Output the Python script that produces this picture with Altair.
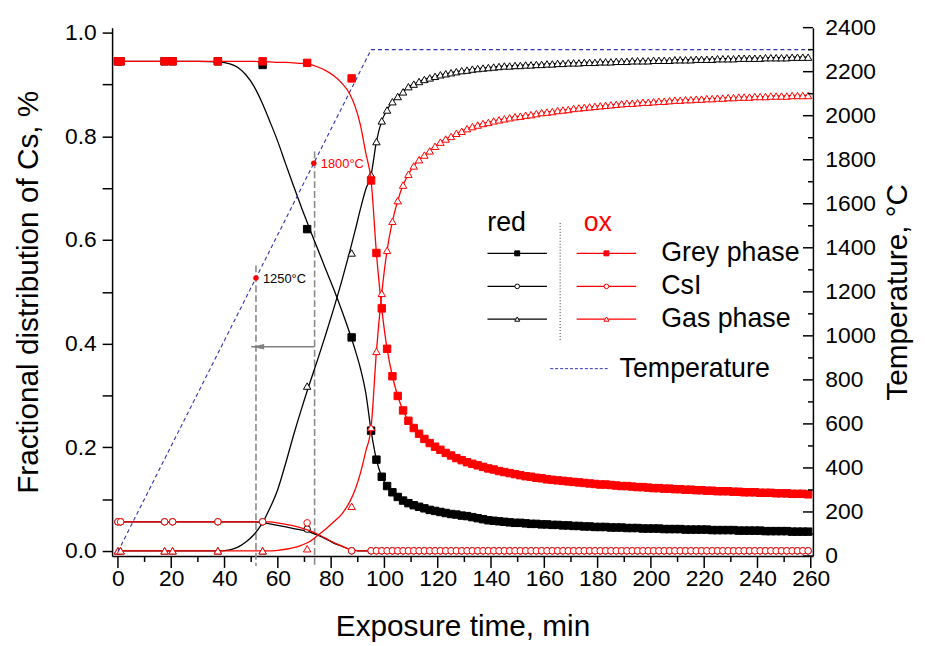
import altair as alt
import pandas as pd

FONT = "Liberation Sans"

# ---------------- data ----------------
# sparse measurement times (min)
t_sparse = [0, 1, 17.5, 20.5, 37.5, 54.3, 71, 87.7]
red_grey_sparse = [0.945, 0.945, 0.945, 0.945, 0.945, 0.938, 0.621, 0.412]
red_csi_sparse = [0.056, 0.056, 0.056, 0.056, 0.056, 0.056, 0.042, 0.0]
red_gas_sparse = [0.0, 0.0, 0.0, 0.0, 0.0, 0.0, 0.318, 0.575]
ox_grey_sparse = [0.945, 0.945, 0.945, 0.945, 0.945, 0.945, 0.942, 0.912]
ox_csi_sparse = [0.056, 0.056, 0.056, 0.056, 0.056, 0.056, 0.054, 0.0]
ox_gas_sparse = [0.0, 0.0, 0.0, 0.0, 0.0, 0.0, 0.004, 0.086]

# dense measurement times (min), every 2 min from 95 to 259
t_dense = list(range(95, 260, 2))

red_grey_dense = [
    0.232, 0.176, 0.143, 0.125, 0.113, 0.104, 0.097, 0.092, 0.088, 0.085,
    0.082, 0.079, 0.077, 0.075, 0.073, 0.071, 0.070, 0.068, 0.067, 0.065,
    0.063, 0.061, 0.059, 0.058, 0.057, 0.056, 0.055, 0.054, 0.054, 0.053,
    0.052, 0.052, 0.051, 0.051, 0.050, 0.050, 0.049, 0.049, 0.048, 0.048,
    0.047, 0.047, 0.046, 0.046, 0.046, 0.045, 0.045, 0.045, 0.044, 0.044,
    0.044, 0.043, 0.043, 0.043, 0.043, 0.042, 0.042, 0.042, 0.042, 0.041,
    0.041, 0.041, 0.041, 0.041, 0.040, 0.040, 0.040, 0.040, 0.040, 0.039,
    0.039, 0.039, 0.039, 0.039, 0.038, 0.038, 0.038, 0.038, 0.038, 0.037,
    0.037, 0.037, 0.037]
red_gas_dense = [
    0.726, 0.790, 0.830, 0.851, 0.867, 0.877, 0.886, 0.896, 0.901, 0.906,
    0.910, 0.913, 0.916, 0.919, 0.921, 0.923, 0.925, 0.927, 0.928, 0.930,
    0.931, 0.932, 0.933, 0.934, 0.935, 0.936, 0.936, 0.937, 0.937, 0.938,
    0.938, 0.939, 0.939, 0.940, 0.940, 0.941, 0.941, 0.942, 0.942, 0.942,
    0.943, 0.943, 0.943, 0.944, 0.944, 0.944, 0.945, 0.945, 0.945, 0.946,
    0.946, 0.946, 0.946, 0.947, 0.947, 0.947, 0.947, 0.948, 0.948, 0.948,
    0.948, 0.949, 0.949, 0.949, 0.949, 0.950, 0.950, 0.950, 0.950, 0.951,
    0.951, 0.951, 0.951, 0.951, 0.952, 0.952, 0.952, 0.952, 0.952, 0.953,
    0.953, 0.953, 0.953]
ox_grey_dense = [
    0.715, 0.575, 0.468, 0.390, 0.337, 0.299, 0.271, 0.251, 0.237, 0.226,
    0.216, 0.208, 0.201, 0.195, 0.189, 0.184, 0.179, 0.175, 0.171, 0.168,
    0.165, 0.162, 0.159, 0.157, 0.154, 0.152, 0.150, 0.148, 0.146, 0.144,
    0.143, 0.141, 0.140, 0.138, 0.137, 0.136, 0.135, 0.134, 0.133, 0.132,
    0.131, 0.130, 0.129, 0.128, 0.128, 0.127, 0.126, 0.125, 0.125, 0.124,
    0.123, 0.123, 0.122, 0.121, 0.121, 0.120, 0.120, 0.119, 0.119, 0.118,
    0.118, 0.117, 0.117, 0.116, 0.116, 0.115, 0.115, 0.115, 0.114, 0.114,
    0.113, 0.113, 0.113, 0.112, 0.112, 0.112, 0.111, 0.111, 0.111, 0.110,
    0.110, 0.110, 0.109]
ox_gas_dense = [
    0.238, 0.385, 0.497, 0.580, 0.636, 0.676, 0.706, 0.727, 0.743, 0.755,
    0.764, 0.772, 0.781, 0.789, 0.795, 0.800, 0.806, 0.810, 0.815, 0.819,
    0.822, 0.825, 0.827, 0.830, 0.832, 0.834, 0.836, 0.838, 0.839, 0.841,
    0.842, 0.844, 0.846, 0.847, 0.848, 0.850, 0.851, 0.852, 0.854, 0.855,
    0.856, 0.857, 0.858, 0.859, 0.860, 0.861, 0.862, 0.863, 0.864, 0.864,
    0.865, 0.866, 0.866, 0.867, 0.868, 0.868, 0.869, 0.870, 0.870, 0.871,
    0.871, 0.872, 0.872, 0.873, 0.873, 0.874, 0.874, 0.875, 0.875, 0.876,
    0.876, 0.876, 0.877, 0.877, 0.877, 0.878, 0.878, 0.878, 0.878, 0.879,
    0.879, 0.879, 0.879]
csi_dense = [0.0] * len(t_dense)

# fitted (smooth) curves before the dense region
t_fit = [0, 30, 38, 42, 45, 48, 51, 54, 57, 60, 63, 66, 69, 72, 75, 78, 81, 84, 87, 89, 91, 93]
red_grey_fit = [0.945, 0.945, 0.944, 0.940, 0.933, 0.919, 0.897, 0.866, 0.829, 0.790, 0.746,
                0.703, 0.661, 0.621, 0.582, 0.543, 0.505, 0.464, 0.420, 0.388, 0.352, 0.305]
red_csi_fit = [0.056, 0.056, 0.056, 0.056, 0.056, 0.056, 0.056, 0.055, 0.052, 0.049, 0.046,
               0.043, 0.040, 0.036, 0.030, 0.023, 0.015, 0.009, 0.003, 0.001, 0.0, 0.0]
red_gas_fit = [0.0, 0.0, 0.0, 0.002, 0.007, 0.017, 0.031, 0.052, 0.082, 0.119, 0.170,
               0.225, 0.276, 0.324, 0.370, 0.418, 0.468, 0.521, 0.578, 0.618, 0.660, 0.698]
ox_grey_fit = [0.945, 0.945, 0.945, 0.945, 0.945, 0.945, 0.945, 0.944, 0.944, 0.943, 0.943,
               0.942, 0.941, 0.939, 0.934, 0.927, 0.917, 0.903, 0.882, 0.858, 0.822, 0.768]
ox_csi_fit = [0.056, 0.056, 0.056, 0.056, 0.056, 0.056, 0.056, 0.056, 0.056, 0.054, 0.051,
              0.048, 0.044, 0.039, 0.032, 0.024, 0.016, 0.009, 0.003, 0.001, 0.0, 0.0]
ox_gas_fit = [0.0, 0.0, 0.0, 0.0, 0.0, 0.0, 0.0, 0.0, 0.0, 0.001, 0.003,
              0.006, 0.011, 0.018, 0.030, 0.042, 0.056, 0.071, 0.095, 0.118, 0.150, 0.192]

# temperature programme
temp_t = [0, 95, 260]
temp_c = [20, 2300, 2300]

# marked temperatures
mark_t = [51.8, 73.5]
mark_c = [1263, 1784]
mark_label = ["1250°C", "1800°C"]

# guide lines and arrow
guide_t = [51.8, 73.8]
guide_top = [0.551, 0.771]
arrow_from = [73.8]
arrow_to = [50.0]
arrow_level = [0.394]

# axis tick values
x_major = list(range(0, 261, 20))
x_minor = list(range(10, 251, 20))
y_ticks = [round(i * 0.1, 1) for i in range(11)]
t_major = list(range(0, 2401, 200))
t_minor = list(range(100, 2301, 200))

# legend
legend_rows = ["Grey phase", "CsI", "Gas phase"]

# ---------------- scales & axes ----------------
W, H = 707, 533
LBL, TTL, LEG = 23, 30, 27
x_scale = alt.Scale(domain=[-2.2, 260.8], nice=False, zero=False)
y_scale = alt.Scale(domain=[-0.01, 1.01], nice=False, zero=False)
t_scale = alt.Scale(domain=[0, 2400], nice=False, zero=False)

x_axis = alt.Axis(values=x_major, ticks=False, grid=False, labelPadding=12, labelFontSize=LBL,
                  title="Exposure time, min", titleFontSize=TTL, titlePadding=21,
                  titleFontWeight="normal", labelFlush=False, labelOverlap=False,
                  domainWidth=1.5, domainColor="black")
y_axis = alt.Axis(orient="left", values=y_ticks,
                  labelExpr="round(datum.value*10) % 2 == 0 ? format(datum.value, '.1f') : ''",
                  tickSize=10, tickWidth=1.5, tickColor="black", labelPadding=6, labelFontSize=LBL,
                  title="Fractional distribution of Cs, %", titleFontSize=TTL, titlePadding=21,
                  titleFontWeight="normal", grid=False, labelFlush=False, labelOverlap=False,
                  domainWidth=1.5, domainColor="black")
t_axis = alt.Axis(orient="right", values=t_major, format="d", ticks=False, labelPadding=12,
                  labelFontSize=LBL, title="Temperature, °C", titleFontSize=TTL, titlePadding=7,
                  titleAngle=270, titleBaseline="top", titleFontWeight="normal", grid=False,
                  labelFlush=False, labelOverlap=False, domainWidth=1.5, domainColor="black")


def X(f="t"):
    return alt.X(f"{f}:Q", scale=x_scale, axis=x_axis)


def Y(f="v"):
    return alt.Y(f"{f}:Q", scale=y_scale, axis=y_axis)


def YT(f="T"):
    return alt.Y(f"{f}:Q", scale=t_scale, axis=t_axis)


BLACK, RED = "#000000", "#ff0000"
SIZES = {"square": 56, "circle": 44, "triangle-up": 56}


def series(t_pts, v_pts, v_fit, v_dense_line, color, shape, filled):
    pts = pd.DataFrame({"t": t_pts, "v": v_pts})
    ln = pd.DataFrame({"t": t_fit + t_dense, "v": v_fit + v_dense_line})
    line = alt.Chart(ln).mark_line(color=color, strokeWidth=1.3, interpolate="monotone").encode(
        x=X(), y=Y())
    pt = alt.Chart(pts).mark_point(shape=shape, filled=True, size=SIZES[shape],
                                   fill=color if filled else "white", stroke=color,
                                   strokeWidth=1, opacity=1).encode(x=X(), y=Y())
    return line, pt


rg_l, rg_p = series(t_sparse + t_dense, red_grey_sparse + red_grey_dense, red_grey_fit, red_grey_dense, BLACK, "square", True)
rc_l, rc_p = series(t_sparse + t_dense, red_csi_sparse + csi_dense, red_csi_fit, csi_dense, BLACK, "circle", False)
ra_l, ra_p = series(t_sparse + t_dense, red_gas_sparse + red_gas_dense, red_gas_fit, red_gas_dense, BLACK, "triangle-up", False)
og_l, og_p = series(t_sparse + t_dense, ox_grey_sparse + ox_grey_dense, ox_grey_fit, ox_grey_dense, RED, "square", True)
oc_l, oc_p = series(t_sparse + t_dense, ox_csi_sparse + csi_dense, ox_csi_fit, csi_dense, RED, "circle", False)
oa_l, oa_p = series(t_sparse + t_dense, ox_gas_sparse + ox_gas_dense, ox_gas_fit, ox_gas_dense, RED, "triangle-up", False)

# guides
guide_df = pd.DataFrame({"t": guide_t, "v": guide_top})
guides = alt.Chart(guide_df).mark_rule(color="#8a8a8a", strokeWidth=1.6, strokeDash=[7, 3]).encode(
    x=X(), y=Y(), y2=alt.value(H + 10))
arrow_df = pd.DataFrame({"t": arrow_from, "t2": arrow_to, "v": arrow_level})
arrow_line = alt.Chart(arrow_df).mark_rule(color="#808080", strokeWidth=1.5).encode(
    x=X(), x2="t2:Q", y=Y())
arrow_head = alt.Chart(pd.DataFrame({"t": arrow_to, "v": arrow_level})).mark_point(
    shape="M0,0 L2,-0.42 L2,0.42 Z", size=170, filled=True, color="#808080", opacity=1,
    strokeWidth=0).encode(x=X(), y=Y())

# x ticks (outward, major/minor)
xmaj = alt.Chart(pd.DataFrame({"t": x_major})).mark_rule(color="black", strokeWidth=1.5).encode(
    x=X(), y=alt.value(H), y2=alt.value(H + 12))
xmin = alt.Chart(pd.DataFrame({"t": x_minor})).mark_rule(color="black", strokeWidth=1.5).encode(
    x=X(), y=alt.value(H), y2=alt.value(H + 6))

# ---------------- legend ----------------
one = pd.DataFrame({"a": [0]})
leg = []
leg.append(alt.Chart(one).mark_text(text="red", font=FONT, fontSize=LEG, color="black", align="center",
                                    baseline="alphabetic").encode(x=alt.value(398), y=alt.value(205)))
leg.append(alt.Chart(one).mark_text(text="ox", font=FONT, fontSize=LEG, color=RED, align="center",
                                    baseline="alphabetic").encode(x=alt.value(490), y=alt.value(205)))
leg.append(alt.Chart(one).mark_rule(color="#333333", strokeWidth=1, strokeDash=[1, 2]).encode(
    x=alt.value(452), y=alt.value(197), y2=alt.value(317)))
row_y = [227.7, 261, 294]
shapes = [("square", True, 25), ("circle", False, 22), ("triangle-up", False, 25)]
for name, yy, (shp, fill, sz) in zip(legend_rows, row_y, shapes):
    for col, x0 in ((BLACK, 378.7), (RED, 468.7)):
        leg.append(alt.Chart(one).mark_rule(color=col, strokeWidth=1.3).encode(
            x=alt.value(x0), x2=alt.value(x0 + 60), y=alt.value(yy)))
        leg.append(alt.Chart(one).mark_point(shape=shp, filled=True, size=sz,
                                             fill=col if fill else "white", stroke=col,
                                             strokeWidth=1, opacity=1).encode(
            x=alt.value(x0 + 30), y=alt.value(yy)))
    leg.append(alt.Chart(one).mark_text(text=name, font=FONT, fontSize=LEG, color="black", align="left",
                                        baseline="middle").encode(x=alt.value(554), y=alt.value(yy)))
leg.append(alt.Chart(one).mark_rule(color="#3232b4", strokeWidth=1, strokeDash=[3, 2]).encode(
    x=alt.value(442), x2=alt.value(500), y=alt.value(344)))
leg.append(alt.Chart(one).mark_text(text="Temperature", font=FONT, fontSize=LEG, color="black",
                                    align="left", baseline="middle").encode(
    x=alt.value(512), y=alt.value(344)))

frac = alt.layer(guides, arrow_line, arrow_head, xmaj, xmin,
                 rc_l, ra_l, rg_l, rc_p, ra_p, rg_p,
                 oc_l, oa_l, og_l, oc_p, oa_p, og_p, *leg)

# ---------------- temperature ----------------
temp_df = pd.DataFrame({"t": temp_t, "T": temp_c})
temp_line = alt.Chart(temp_df).mark_line(color="#3232b4", strokeWidth=1.1, strokeDash=[4, 3]).encode(
    x=X(), y=YT())
mark_df = pd.DataFrame({"t": mark_t, "T": mark_c, "label": mark_label})
dots = alt.Chart(mark_df).mark_point(shape="circle", filled=True, size=30, color=RED, opacity=1).encode(
    x=X(), y=YT())
labels = alt.Chart(mark_df).mark_text(font=FONT, fontSize=13, align="left", baseline="middle", dx=7,
                                      dy=1).encode(
    x=X(), y=YT(), text="label:N",
    color=alt.condition(alt.datum.label == "1800°C", alt.value(RED), alt.value("black")))
tmaj = alt.Chart(pd.DataFrame({"T": t_major})).mark_rule(color="black", strokeWidth=1.5).encode(
    y=YT(), x=alt.value(W), x2=alt.value(W - 10))
tmin = alt.Chart(pd.DataFrame({"T": t_minor})).mark_rule(color="black", strokeWidth=1.5).encode(
    y=YT(), x=alt.value(W), x2=alt.value(W - 5))
temp = alt.layer(temp_line, tmaj, tmin, dots, labels)

chart = alt.layer(frac, temp).resolve_scale(y="independent").properties(
    width=W, height=H,
    autosize=alt.AutoSizeParams(type="none"),
    padding={"left": 105, "top": 17, "right": 105, "bottom": 90},
    background="white",
).configure_view(strokeWidth=0).configure_axis(
    labelFont=FONT, titleFont=FONT, labelColor="black", titleColor="black", tickColor="black",
    domainColor="black")

chart.save("out.html", embed_options={"renderer": "svg", "actions": False})
